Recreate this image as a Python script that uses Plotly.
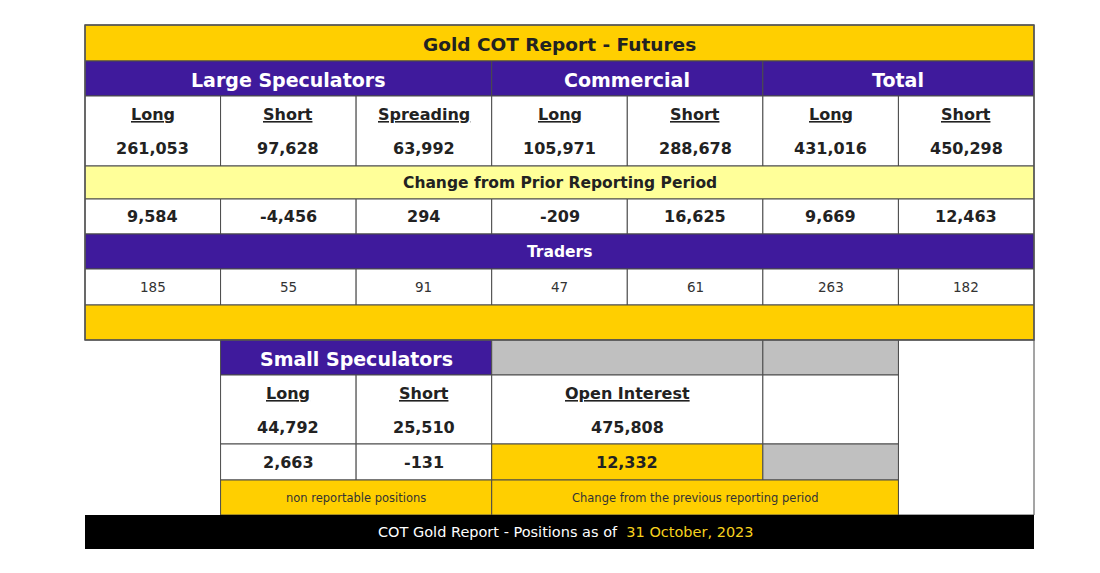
import plotly.graph_objects as go

# ---------------- data ----------------
title = "Gold COT Report - Futures"
groups = ["Large Speculators", "Commercial", "Total"]
group_spans = [3, 2, 2]
col_labels = ["Long", "Short", "Spreading", "Long", "Short", "Long", "Short"]
positions = [261053, 97628, 63992, 105971, 288678, 431016, 450298]
change_title = "Change from Prior Reporting Period"
changes = [9584, -4456, 294, -209, 16625, 9669, 12463]
traders_title = "Traders"
traders = [185, 55, 91, 47, 61, 263, 182]
small_title = "Small Speculators"
small_labels = ["Long", "Short"]
small_positions = [44792, 25510]
small_changes = [2663, -131]
oi_label = "Open Interest"
open_interest = 475808
oi_change = 12332
small_note = "non reportable positions"
oi_note = "Change from the previous reporting period"
footer_text = "COT Gold Report - Positions as of"
report_date = "31 October, 2023"

# ---------------- style / geometry ----------------
W, H = 1100, 573
PAD = 8  # page body margin
X0, X1 = 85, 1034
NCOL = 7
CW = (X1 - X0) / NCOL
cx = [X0 + i * CW for i in range(NCOL + 1)]
# row boundaries (top to bottom)
R = [25, 61, 96, 131, 166, 199, 234, 269, 305, 340, 375, 410, 444, 480, 515, 549]

YELLOW = "#FFCF00"
LIGHTY = "#FFFF99"
PURPLE = "#3F1A9C"
GRAY = "#C0C0C0"
LINE = "#4a4a4a"
TXT = "#222222"
FONT = "DejaVu Sans"

fig = go.Figure()
shapes = []
ann = []


def cell(xa, xb, ya, yb, fill, line=True):
    shapes.append(dict(type="rect", xref="x", yref="y", x0=xa, x1=xb, y0=ya, y1=yb,
                       fillcolor=fill,
                       line=dict(color=LINE, width=1) if line else dict(width=0),
                       layer="below"))


def text(x, y, s, size, color=TXT, bold=True):
    ann.append(dict(x=x, y=y, xref="x", yref="y", text=(f"<b>{s}</b>" if bold else s),
                    showarrow=False, xanchor="center", yanchor="middle",
                    font=dict(family=FONT, size=size, color=color)))


fmt = lambda v: f"{v:,}"

# title row
cell(X0, X1, R[0], R[1], YELLOW)
text((X0 + X1) / 2, (R[0] + R[1]) / 2 + 1, title, 18.5)

# group header row
c = 0
for g, span in zip(groups, group_spans):
    cell(cx[c], cx[c + span], R[1], R[2], PURPLE)
    text((cx[c] + cx[c + span]) / 2, (R[1] + R[2]) / 2 + 1, g, 19, "white")
    c += span

# labels + positions
for i in range(NCOL):
    cell(cx[i], cx[i + 1], R[2], R[4], "white")
    text((cx[i] + cx[i + 1]) / 2, (R[2] + R[3]) / 2 + 1, f"<u>{col_labels[i]}</u>", 16)
    text((cx[i] + cx[i + 1]) / 2, (R[3] + R[4]) / 2, fmt(positions[i]), 16)

# change title
cell(X0, X1, R[4], R[5], LIGHTY)
text((X0 + X1) / 2, (R[4] + R[5]) / 2, change_title, 15.5)

# change values
for i in range(NCOL):
    cell(cx[i], cx[i + 1], R[5], R[6], "white")
    text((cx[i] + cx[i + 1]) / 2, (R[5] + R[6]) / 2, fmt(changes[i]), 16)

# traders title
cell(X0, X1, R[6], R[7], PURPLE)
text((X0 + X1) / 2, (R[6] + R[7]) / 2, traders_title, 15.5, "white")

# traders values
for i in range(NCOL):
    cell(cx[i], cx[i + 1], R[7], R[8], "white")
    text((cx[i] + cx[i + 1]) / 2, (R[7] + R[8]) / 2, fmt(traders[i]), 13.5, "#333333", bold=False)

# blank yellow row
cell(X0, X1, R[8], R[9], YELLOW)

# right blank column in lower block
cell(cx[6], cx[7], R[9], R[14], "white")

# small speculators header
cell(cx[1], cx[3], R[9], R[10], PURPLE)
text((cx[1] + cx[3]) / 2, (R[9] + R[10]) / 2 + 1, small_title, 19, "white")
cell(cx[3], cx[5], R[9], R[10], GRAY)
cell(cx[5], cx[6], R[9], R[10], GRAY)

# small labels + positions
for k in range(2):
    a, b = cx[1 + k], cx[2 + k]
    cell(a, b, R[10], R[12], "white")
    text((a + b) / 2, (R[10] + R[11]) / 2 + 1, f"<u>{small_labels[k]}</u>", 16)
    text((a + b) / 2, (R[11] + R[12]) / 2, fmt(small_positions[k]), 16)
    cell(a, b, R[12], R[13], "white")
    text((a + b) / 2, (R[12] + R[13]) / 2, fmt(small_changes[k]), 16)

# open interest
cell(cx[3], cx[5], R[10], R[12], "white")
text((cx[3] + cx[5]) / 2, (R[10] + R[11]) / 2 + 1, f"<u>{oi_label}</u>", 16)
text((cx[3] + cx[5]) / 2, (R[11] + R[12]) / 2, fmt(open_interest), 16)
cell(cx[5], cx[6], R[10], R[12], "white")
cell(cx[3], cx[5], R[12], R[13], YELLOW)
text((cx[3] + cx[5]) / 2, (R[12] + R[13]) / 2, fmt(oi_change), 16)
cell(cx[5], cx[6], R[12], R[13], GRAY)

# notes row
cell(cx[1], cx[3], R[13], R[14], YELLOW)
text((cx[1] + cx[3]) / 2, (R[13] + R[14]) / 2, small_note, 11.5, "#333333", bold=False)
cell(cx[3], cx[6], R[13], R[14], YELLOW)
text((cx[3] + cx[6]) / 2, (R[13] + R[14]) / 2, oi_note, 11.5, "#333333", bold=False)

# footer
cell(X0, X1, R[14], R[15], "black", line=False)
ann.append(dict(x=(X0 + X1) / 2 + 6, y=(R[14] + R[15]) / 2, xref="x", yref="y",
                text=f"{footer_text}  <span style='color:#F7D21E'>{report_date}</span>",
                showarrow=False, xanchor="center", yanchor="middle",
                font=dict(family=FONT, size=14.5, color="white")))

# outer border of upper block
shapes.append(dict(type="rect", xref="x", yref="y", x0=X0, x1=X1, y0=R[0], y1=R[9],
                   line=dict(color="#555555", width=1.5), fillcolor="rgba(0,0,0,0)", layer="above"))

fig.update_layout(
    width=W - PAD, height=H - PAD,
    margin=dict(l=0, r=0, t=0, b=0),
    paper_bgcolor="white", plot_bgcolor="white",
    xaxis=dict(range=[PAD, W], visible=False, fixedrange=True),
    yaxis=dict(range=[H, PAD], visible=False, fixedrange=True),
    shapes=shapes, annotations=ann, showlegend=False,
)
fig.write_html("out.html")
